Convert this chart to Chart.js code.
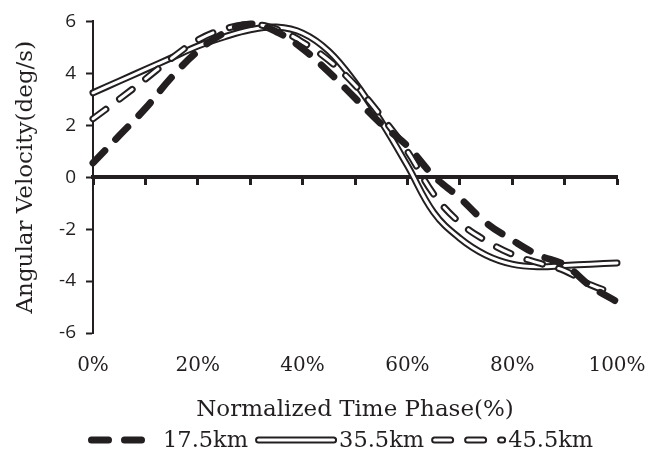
<!DOCTYPE html>
<html>
<head>
<meta charset="utf-8">
<style>
  html, body { margin: 0; padding: 0; background: #fff; }
  #wrap { width: 654px; height: 457px; }
</style>
</head>
<body>
<div id="wrap"><canvas id="chart" width="654" height="457"></canvas></div>
<script src="https://cdn.jsdelivr.net/npm/chart.js"></script>
<script>
// normalized time phase (%) and angular velocity (deg/s)
const phase = [0, 5, 10, 15, 20, 25, 30, 35, 40, 45, 50, 55, 60, 65, 70, 75, 80, 85, 90, 95, 100];
const v17 = [0.55, 1.6, 2.65, 3.85, 4.85, 5.55, 5.9, 5.6, 4.95, 4.05, 3.05, 2.05, 1.2, 0.05, -0.8, -1.75, -2.42, -3.0, -3.38, -4.2, -4.8];
const v35 = [3.25, 3.7, 4.15, 4.6, 5.05, 5.4, 5.68, 5.78, 5.55, 4.85, 3.65, 2.15, 0.45, -1.35, -2.35, -3.0, -3.35, -3.45, -3.4, -3.35, -3.3];
const v45 = [2.25, 3.0, 3.78, 4.58, 5.28, 5.7, 5.88, 5.7, 5.2, 4.5, 3.55, 2.35, 1.0, -0.65, -1.75, -2.45, -2.97, -3.3, -3.6, -4.15, -4.5];
const seriesNames = ['17.5km', '35.5km', '45.5km'];
const xTickLabels = [0, 20, 40, 60, 80, 100];
const xMinorTicks = [0, 10, 20, 30, 40, 50, 60, 70, 80, 90, 100];
const yTickValues = [-6, -4, -2, 0, 2, 4, 6];

const ink = '#231f20';
const thickDash = [17, 16];
const doubleDash = [16, 17];
const serif = '"DejaVu Serif", serif';

function pts(values) {
    return phase.map((p, i) => ({ x: p, y: values[i] }));
}

const common = {
    pointRadius: 0,
    tension: 0.4,
    fill: false,
    borderCapStyle: 'round',
    borderJoinStyle: 'round',
    clip: false
};

// double lines = wide black stroke with a thin white stroke on top
const datasets = [
    { ...common, label: seriesNames[0], data: pts(v17), borderColor: ink, borderWidth: 7, borderDash: thickDash, order: 1 },
    { ...common, label: seriesNames[2] + ' inner', data: pts(v45), borderColor: '#ffffff', borderWidth: 3, borderDash: doubleDash, order: 3 },
    { ...common, label: seriesNames[2], data: pts(v45), borderColor: ink, borderWidth: 7, borderDash: doubleDash, order: 4 },
    { ...common, label: seriesNames[1] + ' inner', data: pts(v35), borderColor: '#ffffff', borderWidth: 3, order: 5 },
    { ...common, label: seriesNames[1], data: pts(v35), borderColor: ink, borderWidth: 7, order: 6 }
];

const legendItems = [
    { text: seriesNames[0], dash: thickDash, double: false, len: 66 },
    { text: seriesNames[1], dash: [], double: true, len: 75 },
    { text: seriesNames[2], dash: doubleDash, double: true, len: 68 }
];

const legendPlugin = {
    id: 'seriesLegend',
    afterDraw(chart) {
        const ctx = chart.ctx;
        const y = 440;
        let x = 88;
        ctx.save();
        ctx.font = '22.5px ' + serif;
        ctx.textBaseline = 'middle';
        ctx.lineCap = 'round';
        legendItems.forEach(item => {
            const x0 = x + 3.5, x1 = x0 + item.len;
            ctx.setLineDash(item.dash);
            ctx.strokeStyle = ink;
            ctx.lineWidth = 7;
            ctx.beginPath(); ctx.moveTo(x0, y); ctx.lineTo(x1, y); ctx.stroke();
            if (item.double) {
                ctx.strokeStyle = '#ffffff';
                ctx.lineWidth = 3;
                ctx.beginPath(); ctx.moveTo(x0, y); ctx.lineTo(x1, y); ctx.stroke();
            }
            ctx.setLineDash([]);
            x = x1 + 3.5 + 2;
            ctx.fillStyle = ink;
            ctx.fillText(item.text, x, y + 1);
            x += ctx.measureText(item.text).width + 7;
        });
        ctx.restore();
    }
};

new Chart(document.getElementById('chart'), {
    type: 'line',
    data: { datasets: datasets },
    options: {
        responsive: false,
        animation: false,
        layout: { padding: { top: 17, right: 37, left: 0, bottom: 0 } },
        plugins: { legend: { display: false }, tooltip: { enabled: false } },
        scales: {
            x: {
                type: 'linear', min: 0, max: 100,
                position: { y: 0 },
                border: { display: true, color: ink, width: 4 },
                grid: { drawOnChartArea: false, drawTicks: true, tickLength: 6, tickWidth: 3, tickColor: ink, color: ink },
                ticks: { display: false },
                afterBuildTicks: s => { s.ticks = xMinorTicks.map(v => ({ value: v })); },
                afterFit: s => { s.paddingLeft = 0; s.paddingRight = 0; }
            },
            x2: {
                type: 'linear', min: 0, max: 100,
                position: 'bottom',
                border: { display: false },
                grid: { display: false, drawTicks: false },
                ticks: {
                    padding: 21, color: ink, maxRotation: 0, autoSkip: false,
                    font: { family: serif, size: 20 },
                    callback: v => v + '%'
                },
                afterBuildTicks: s => { s.ticks = xTickLabels.map(v => ({ value: v })); },
                title: { display: true, text: 'Normalized Time Phase(%)', color: ink, font: { family: serif, size: 23 }, padding: { top: 0, bottom: 33 } },
                afterFit: s => { s.height = 124; s.paddingLeft = 0; s.paddingRight = 0; }
            },
            y: {
                min: -6, max: 6,
                position: 'left',
                border: { display: true, color: ink, width: 2 },
                grid: { drawOnChartArea: false, tickLength: 7, tickWidth: 2, tickColor: ink },
                ticks: { padding: 10, color: ink, font: { family: '"Open Sans", sans-serif', size: 19 } },
                afterBuildTicks: s => { s.ticks = yTickValues.map(v => ({ value: v })); },
                title: { display: true, text: 'Angular Velocity(deg/s)', color: ink, font: { family: serif, size: 23 }, padding: { top: 12, bottom: 0 } },
                afterFit: s => { s.width = 93; }
            }
        }
    },
    plugins: [legendPlugin]
});
</script>
</body>
</html>
